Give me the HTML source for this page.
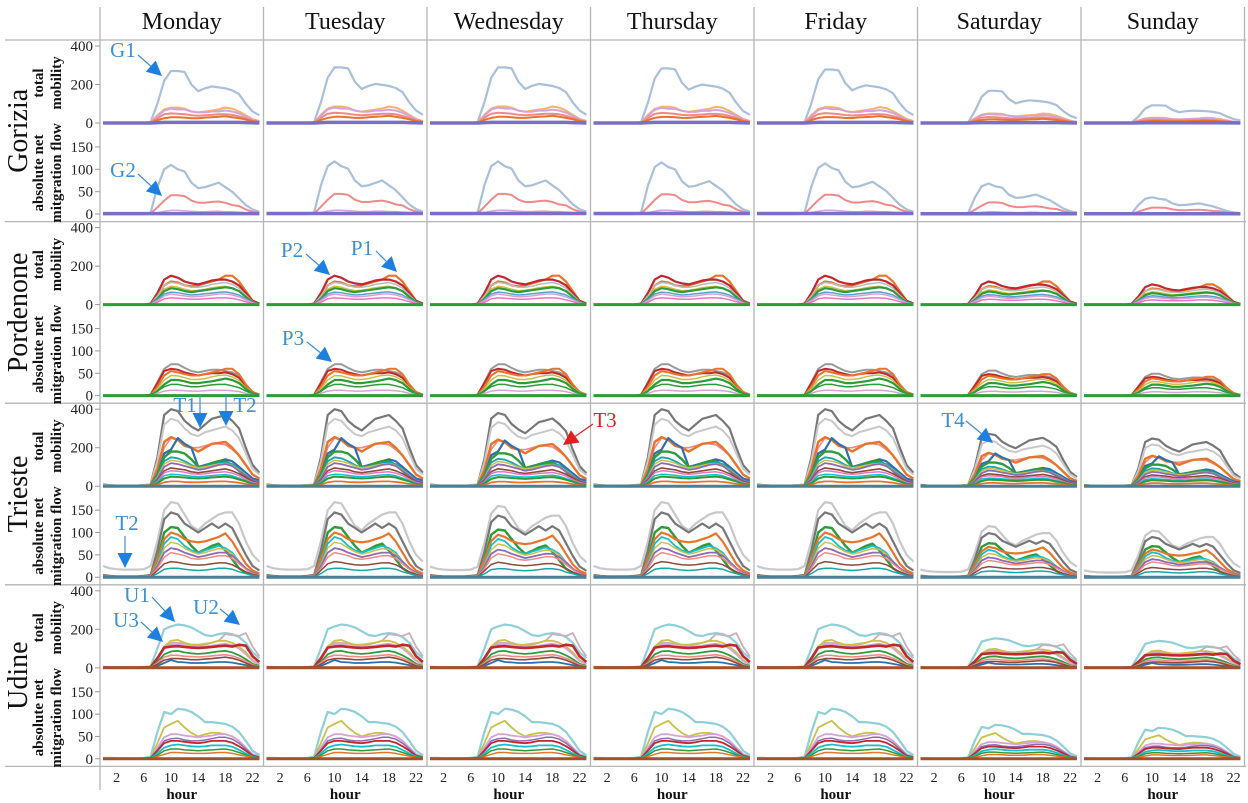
<!DOCTYPE html>
<html><head><meta charset="utf-8">
<style>
body{margin:0;background:#fff;}
svg{display:block;font-family:"Liberation Serif",serif;}
</style></head>
<body>
<svg id="chart" width="1248" height="803" viewBox="0 0 1248 803" xmlns="http://www.w3.org/2000/svg">
<g id="grid"></g>
<g id="series"></g>
<g id="labels"></g>
<g id="annot"></g>
</svg>
<script>
const days = ["Monday","Tuesday","Wednesday","Thursday","Friday","Saturday","Sunday"];
const cities = ["Gorizia","Pordenone","Trieste","Udine"];
const hourTicks = [2,6,10,14,18,22];
const totalTicks = [0,200,400];
const migTicks = [0,50,100,150];
// per-city day multipliers (Mon..Sun)
const dayScale = [
 [1,1.07,1.07,1.05,1.03,0.62,0.34],
 [1,1,1,1,1,0.8,0.7],
 [1,1,0.95,1,1,0.68,0.62],
 [1,1,1,1,1,0.68,0.62]
];
// Gorizia
const gorTotal = [
 ["#a9bfdc",2.2,[0,0,0,0,0,0,0,5,100,220,270,270,265,200,165,180,190,185,180,170,150,100,60,40]],
 ["#f5b26b",2,[0,0,0,0,0,0,0,2,40,70,80,80,75,60,55,60,65,70,80,75,60,40,20,10]],
 ["#d7a3d6",2,[0,0,0,0,0,0,0,2,35,65,75,70,70,60,55,55,60,60,65,60,50,35,18,8]],
 ["#f08a8a",2,[0,0,0,0,0,0,0,2,25,45,50,48,45,40,38,40,42,45,45,42,35,25,12,5]],
 ["#e8742a",2,[0,0,0,0,0,0,0,1,15,25,30,30,28,25,25,28,30,32,35,30,25,18,10,5]],
 ["#7b6ec6",3.5,[0,0,0,0,0,0,0,0,2,3,3,3,3,3,3,3,3,3,3,3,3,2,1,0]]
];
const gorMig = [
 ["#a9bfdc",2.2,[0,0,0,0,0,0,0,3,60,100,110,100,95,70,58,60,65,70,60,50,35,20,10,5]],
 ["#f08a8a",2,[0,0,0,0,0,0,0,1,15,30,42,42,40,30,25,25,27,28,25,20,18,10,5,2]],
 ["#d7a3d6",1.5,[0,0,0,0,0,0,0,0,3,6,8,8,7,6,5,5,6,6,5,5,4,3,2,1]],
 ["#7b6ec6",3.5,[1,1,1,1,1,1,1,1,1,1,1,1,1,1,1,1,1,1,1,1,1,1,1,1]]
];
// Pordenone
const porTotal = [
 ["#e8742a",2.2,[0,0,0,0,0,0,0,3,40,100,120,115,100,95,100,110,120,130,150,150,120,70,20,5]],
 ["#c0282d",2.2,[0,0,0,0,0,0,0,5,60,130,150,140,120,110,105,115,125,130,130,120,100,60,20,5]],
 ["#bbbbbb",1.5,[0,0,0,0,0,0,0,3,45,100,115,110,100,90,90,95,105,110,115,105,85,50,15,3]],
 ["#c9c04a",1.5,[0,0,0,0,0,0,0,2,35,80,95,90,80,72,75,80,88,92,95,88,70,40,12,3]],
 ["#2e9b3a",2.2,[0,0,0,0,0,0,0,2,30,70,85,80,70,65,70,75,80,85,90,85,70,40,12,3]],
 ["#5aa0d0",1.5,[0,0,0,0,0,0,0,2,25,55,65,62,55,50,52,56,60,64,66,60,50,30,10,2]],
 ["#d7a3d6",1.5,[0,0,0,0,0,0,0,1,20,45,55,50,45,40,42,45,50,55,55,50,40,25,8,2]],
 ["#e377c2",1.5,[0,0,0,0,0,0,0,1,12,30,35,33,30,28,28,30,33,35,35,32,25,15,5,1]],
 ["#2e9b3a",3,[0,0,0,0,0,0,0,0,0,0,0,0,0,0,0,0,0,0,0,0,0,0,0,0]]
];
const porMig = [
 ["#999999",2,[0,0,0,0,0,0,0,2,30,60,70,70,62,55,52,55,58,58,55,52,45,25,8,2]],
 ["#c0282d",2,[0,0,0,0,0,0,0,2,28,55,60,58,52,48,45,48,50,50,52,48,40,22,8,2]],
 ["#e8742a",2,[0,0,0,0,0,0,0,1,20,45,55,52,48,45,45,48,52,55,60,60,48,25,8,2]],
 ["#c9c04a",1.5,[0,0,0,0,0,0,0,1,15,35,45,44,40,36,36,38,42,45,46,42,34,18,6,1]],
 ["#2e9b3a",2.2,[0,0,0,0,0,0,0,1,10,25,35,35,32,28,28,30,32,35,38,35,28,15,5,1]],
 ["#2e9b3a",1.5,[0,0,0,0,0,0,0,1,10,20,25,25,22,20,20,22,24,25,25,22,18,10,4,1]],
 ["#d7a3d6",1.5,[0,0,0,0,0,0,0,0,5,10,12,12,11,10,10,11,12,12,12,11,9,5,2,0]],
 ["#2e9b3a",3,[0,0,0,0,0,0,0,0,0,0,0,0,0,0,0,0,0,0,0,0,0,0,0,0]]
];
// Trieste
const triTotal = [
 ["#777777",2.2,[10,5,3,2,2,3,5,10,150,370,400,390,340,310,290,320,350,360,370,340,300,200,110,70]],
 ["#c8c8c8",2,[8,5,3,2,2,3,5,10,130,320,350,340,300,270,260,280,290,300,310,290,250,170,90,60]],
 ["#f08a8a",1.6,[3,2,1,1,1,1,2,5,90,200,250,240,220,200,200,210,220,220,215,190,160,110,60,40]],
 ["#e8742a",2.4,[3,2,1,1,1,1,2,5,90,230,255,240,210,200,180,200,220,225,230,200,160,110,60,40]],
 ["#2f6fad",2.2,[2,1,1,1,1,1,2,3,60,170,190,250,220,200,100,110,120,130,140,130,100,70,40,30]],
 ["#2e9b3a",2.4,[2,1,1,1,1,1,2,3,60,150,180,180,170,140,100,105,120,130,130,110,80,50,25,15]],
 ["#1aa5a8",1.8,[2,1,1,1,1,1,2,3,50,130,150,145,130,110,95,100,110,120,125,115,90,60,30,20]],
 ["#c9c04a",1.5,[2,1,1,1,1,1,2,3,45,115,135,130,120,105,95,100,108,115,118,108,85,58,30,20]],
 ["#8c6bb1",1.8,[2,1,1,1,1,1,2,3,40,100,120,115,105,95,85,90,100,110,115,105,80,55,30,20]],
 ["#8b4a3a",1.6,[1,1,1,1,1,1,1,2,30,80,95,90,85,75,70,75,80,85,90,80,65,45,25,15]],
 ["#e377c2",1.5,[1,1,1,1,1,1,1,2,25,70,80,78,72,65,62,65,70,72,75,68,55,35,20,12]],
 ["#17becf",1.5,[1,1,1,1,1,1,1,2,20,55,62,60,56,52,50,52,55,58,60,54,42,28,15,10]],
 ["#2e9b3a",2,[1,1,1,1,1,1,1,2,15,40,50,48,45,42,40,42,45,48,50,45,35,25,12,8]],
 ["#e8742a",1.8,[1,1,1,1,1,1,1,1,8,20,25,25,22,20,20,22,24,25,25,22,18,12,6,4]],
 ["#4a7f95",3,[0,0,0,0,0,0,0,0,0,0,0,0,0,0,0,0,0,0,0,0,0,0,0,0]]
];
const triMig = [
 ["#c8c8c8",2.2,[25,20,18,17,17,17,18,25,80,150,168,165,140,115,105,120,130,140,145,145,120,80,50,35]],
 ["#777777",2.2,[5,3,2,2,2,2,3,5,60,130,145,140,120,110,100,110,120,110,120,110,80,50,25,15]],
 ["#2e9b3a",2.4,[3,2,1,1,1,1,2,3,40,100,112,110,90,70,55,62,70,75,60,40,20,10,5,3]],
 ["#e8742a",2.2,[3,2,1,1,1,1,2,3,40,85,100,95,85,80,78,80,85,90,98,80,55,30,15,8]],
 ["#17becf",1.8,[2,1,1,1,1,1,1,2,30,75,90,85,70,60,55,60,65,70,65,55,35,20,10,5]],
 ["#c9c04a",1.5,[2,1,1,1,1,1,1,2,28,65,78,75,65,57,52,55,60,64,62,52,35,20,10,5]],
 ["#8c6bb1",1.8,[2,1,1,1,1,1,1,2,25,55,65,62,55,50,45,48,52,55,55,48,35,20,10,5]],
 ["#f08a8a",1.5,[1,1,1,1,1,1,1,2,20,45,55,52,48,42,40,42,45,48,48,42,30,18,8,4]],
 ["#8b4a3a",1.5,[1,1,1,1,1,1,1,1,15,30,35,33,30,28,27,28,30,32,32,28,20,12,6,3]],
 ["#1aa5a8",1.5,[1,1,1,1,1,1,1,1,8,18,20,20,18,16,15,16,18,20,20,18,12,8,4,2]],
 ["#4a7f95",3,[0,0,0,0,0,0,0,0,0,0,0,0,0,0,0,0,0,0,0,0,0,0,0,0]]
];
// Udine
const udiTotal = [
 ["#8fd0d8",2.2,[5,4,3,3,3,3,4,8,100,200,215,225,220,210,190,170,165,175,180,175,160,130,80,50]],
 ["#c8b0b8",1.8,[3,2,2,2,2,2,3,5,50,110,130,130,125,120,115,120,130,140,175,170,165,180,110,60]],
 ["#c9c04a",1.8,[2,1,1,1,1,1,2,3,45,110,140,145,130,120,120,125,130,140,140,130,110,80,40,20]],
 ["#d7a3d6",1.8,[2,1,1,1,1,1,2,3,40,100,120,120,115,110,108,110,115,120,125,118,100,70,35,18]],
 ["#c0282d",2.6,[2,1,1,1,1,1,2,3,50,105,110,112,108,105,103,105,108,112,115,110,120,115,60,30]],
 ["#2e9b3a",1.8,[1,1,1,1,1,1,1,2,30,70,85,88,80,75,72,75,80,85,88,80,65,45,20,10]],
 ["#f08a8a",1.6,[1,1,1,1,1,1,1,2,25,55,65,65,60,58,56,58,62,65,68,62,50,35,15,8]],
 ["#8b4a3a",1.6,[1,1,1,1,1,1,1,2,18,40,48,48,45,42,42,45,48,52,55,50,40,25,10,5]],
 ["#2f6fad",1.8,[1,1,1,1,1,1,1,1,10,25,40,30,28,25,25,26,28,30,30,27,20,14,6,3]],
 ["#a0522d",3,[0,0,0,0,0,0,0,0,0,0,0,0,0,0,0,0,0,0,0,0,0,0,0,0]]
];
const udiMig = [
 ["#8fd0d8",2.2,[2,2,1,1,1,1,2,5,60,105,100,112,110,105,95,82,82,80,78,72,60,40,18,8]],
 ["#c9c04a",1.8,[1,1,1,1,1,1,1,3,35,70,78,85,70,58,50,55,58,58,55,50,40,25,10,5]],
 ["#d7a3d6",1.8,[1,1,1,1,1,1,1,2,25,48,55,55,52,50,48,50,52,55,55,50,40,25,10,5]],
 ["#8c6bb1",1.5,[1,1,1,1,1,1,1,2,20,40,45,46,42,40,40,42,45,48,48,44,35,22,8,4]],
 ["#c0282d",1.8,[1,1,1,1,1,1,1,2,18,35,40,40,38,36,35,37,40,40,40,36,28,18,7,3]],
 ["#17becf",1.8,[1,1,1,1,1,1,1,1,12,25,30,32,30,28,27,28,30,30,30,27,20,12,5,2]],
 ["#2e9b3a",1.5,[1,1,1,1,1,1,1,1,8,18,22,22,20,19,18,19,20,21,22,19,14,9,4,2]],
 ["#e8742a",1.5,[0,0,0,0,0,0,0,1,5,10,14,14,13,12,12,12,13,14,14,12,9,6,3,1]],
 ["#a0522d",3,[0,0,0,0,0,0,0,0,0,0,0,0,0,0,0,0,0,0,0,0,0,0,0,0]]
];
const cityTotals = [gorTotal, porTotal, triTotal, udiTotal];
const cityMigs = [gorMig, porMig, triMig, udiMig];

const NS = "http://www.w3.org/2000/svg";
const colX0 = 100, colW = 163.5, rowY0 = 40, rowH = 181.6;
function xScale(col, h){ return colX0 + col*colW + 3 + h*6.8; }
function yTotal(row, v){ return rowY0 + row*rowH + 83 - v*0.1925; }
function yMig(row, v){ return rowY0 + row*rowH + 174 - v*0.447; }
function mk(tag, attrs, parent){ const e=document.createElementNS(NS,tag); for(const k in attrs) e.setAttribute(k, attrs[k]); parent.appendChild(e); return e; }

const grid=document.getElementById('grid'), ser=document.getElementById('series'), lab=document.getElementById('labels'), ann=document.getElementById('annot');
for(let c=0;c<=7;c++){
  const x = colX0 + c*colW;
  const l = mk('line',{x1:x,x2:x,y1:7,y2:c===0?790:767,stroke:'#b5b5b5','stroke-width':1.3},grid);
  
  
}
for(let r=0;r<=4;r++){
  const y = rowY0 + r*rowH;
  const l = mk('line',{x1:5,x2:1246,y1:y,y2:y,stroke:'#b5b5b5','stroke-width':1.3},grid);
  
  
}
days.forEach((d,c)=>{
  const t = mk('text',{x:colX0+c*colW+colW/2,y:29,'text-anchor':'middle','font-size':24,fill:'#111'},lab);
  t.textContent=d;
  
  
  hourTicks.forEach(h=>{
    const tk = mk('text',{x:xScale(c,h),y:782,'text-anchor':'middle','font-size':14,fill:'#222'},lab);
    tk.textContent=h;
    
    
  });
  const hl = mk('text',{x:colX0+c*colW+colW/2,y:799,'text-anchor':'middle','font-size':15,'font-weight':'bold',fill:'#111'},lab);
  hl.textContent='hour';
  
  
});
cities.forEach((city,r)=>{
  const cy = rowY0 + r*rowH + rowH/2;
  const ct = mk('text',{x:0,y:0,transform:`translate(27,${cy}) rotate(-90)`,'text-anchor':'middle','font-size':28,fill:'#111'},lab);
  ct.textContent=city;
  
  
  const ty = rowY0 + r*rowH + 43, my = rowY0 + r*rowH + 133;
  [[ty,'total','mobility'],[my,'absolute net','mitgration flow']].forEach(([yy,a,b])=>{
    const t1 = mk('text',{x:0,y:0,transform:`translate(43,${yy}) rotate(-90)`,'text-anchor':'middle','font-size':15,'font-weight':'bold',fill:'#111'},lab);
    t1.textContent=a;
    
    
    const t2 = mk('text',{x:0,y:0,transform:`translate(61,${yy}) rotate(-90)`,'text-anchor':'middle','font-size':15,'font-weight':'bold',fill:'#111'},lab);
    t2.textContent=b;
    
    
  });
  totalTicks.forEach(v=>{
    const t = mk('text',{x:93,y:yTotal(r,v)+5,'text-anchor':'end','font-size':15,fill:'#222'},lab);
    t.textContent=v;
    
    
    const tl = mk('line',{x1:95,x2:100,y1:yTotal(r,v),y2:yTotal(r,v),stroke:'#999'},lab);
    
    
  });
  migTicks.forEach(v=>{
    const t = mk('text',{x:93,y:yMig(r,v)+5,'text-anchor':'end','font-size':15,fill:'#222'},lab);
    t.textContent=v;
    
    
    const tl = mk('line',{x1:95,x2:100,y1:yMig(r,v),y2:yMig(r,v),stroke:'#999'},lab);
    
    
  });
  for(let c=0;c<7;c++){
    const s = dayScale[r][c];
    cityTotals[r].forEach(([col,w,vals])=>{
      const d = vals.map((v,h)=>(h?'L':'M')+xScale(c,h).toFixed(1)+','+yTotal(r,v*s).toFixed(1)).join('');
      const p = mk('path',{d,fill:'none',stroke:col,'stroke-width':w,'stroke-linejoin':'round'},ser);
      
      
    });
    cityMigs[r].forEach(([col,w,vals])=>{
      const d = vals.map((v,h)=>(h?'L':'M')+xScale(c,h).toFixed(1)+','+yMig(r,v*s).toFixed(1)).join('');
      const p = mk('path',{d,fill:'none',stroke:col,'stroke-width':w,'stroke-linejoin':'round'},ser);
      
      
    });
  }
});
// annotations: label, text center x, text center y, colour, arrow start, arrow tip
const annotations = [
 ["G1",123,50,"#3a8fd8",138,55,162,76],
 ["G2",123,170,"#3a8fd8",138,174,162,196],
 ["P2",292,250,"#3a8fd8",306,254,330,275],
 ["P1",362,248,"#3a8fd8",376,251,397,272],
 ["P3",293,338,"#3a8fd8",307,342,332,362],
 ["T1",185,405,"#3a8fd8",200,394,200,428],
 ["T2",245,405,"#3a8fd8",226,394,226,426],
 ["T3",605,420,"#e02020",593,424,563,445],
 ["T4",953,420,"#3a8fd8",966,421,993,443],
 ["T2",127,523,"#3a8fd8",125,536,125,568],
 ["U1",137,595,"#3a8fd8",152,597,175,622],
 ["U3",126,620,"#3a8fd8",141,622,163,642],
 ["U2",206,607,"#3a8fd8",220,609,240,625]
];
annotations.forEach(([txt,tx,ty,col,x1,y1,x2,y2])=>{
  const t = mk('text',{x:tx,y:ty+7,'text-anchor':'middle','font-size':21,fill:col},ann);
  t.textContent=txt;
  
  
  const ang = Math.atan2(y2-y1,x2-x1);
  const bx = x2-15*Math.cos(ang), by = y2-15*Math.sin(ang);
  const l = mk('line',{x1,y1,x2:bx,y2:by,stroke:col,'stroke-width':1.2},ann);
  
  
  const px=-Math.sin(ang)*7.5, py=Math.cos(ang)*7.5;
  const a = mk('polygon',{points:`${x2},${y2} ${bx+px},${by+py} ${bx-px},${by-py}`,fill:col==='#e02020'?'#e02020':'#1f7fe0'},ann);
  
  
});
</script>
</body></html>
